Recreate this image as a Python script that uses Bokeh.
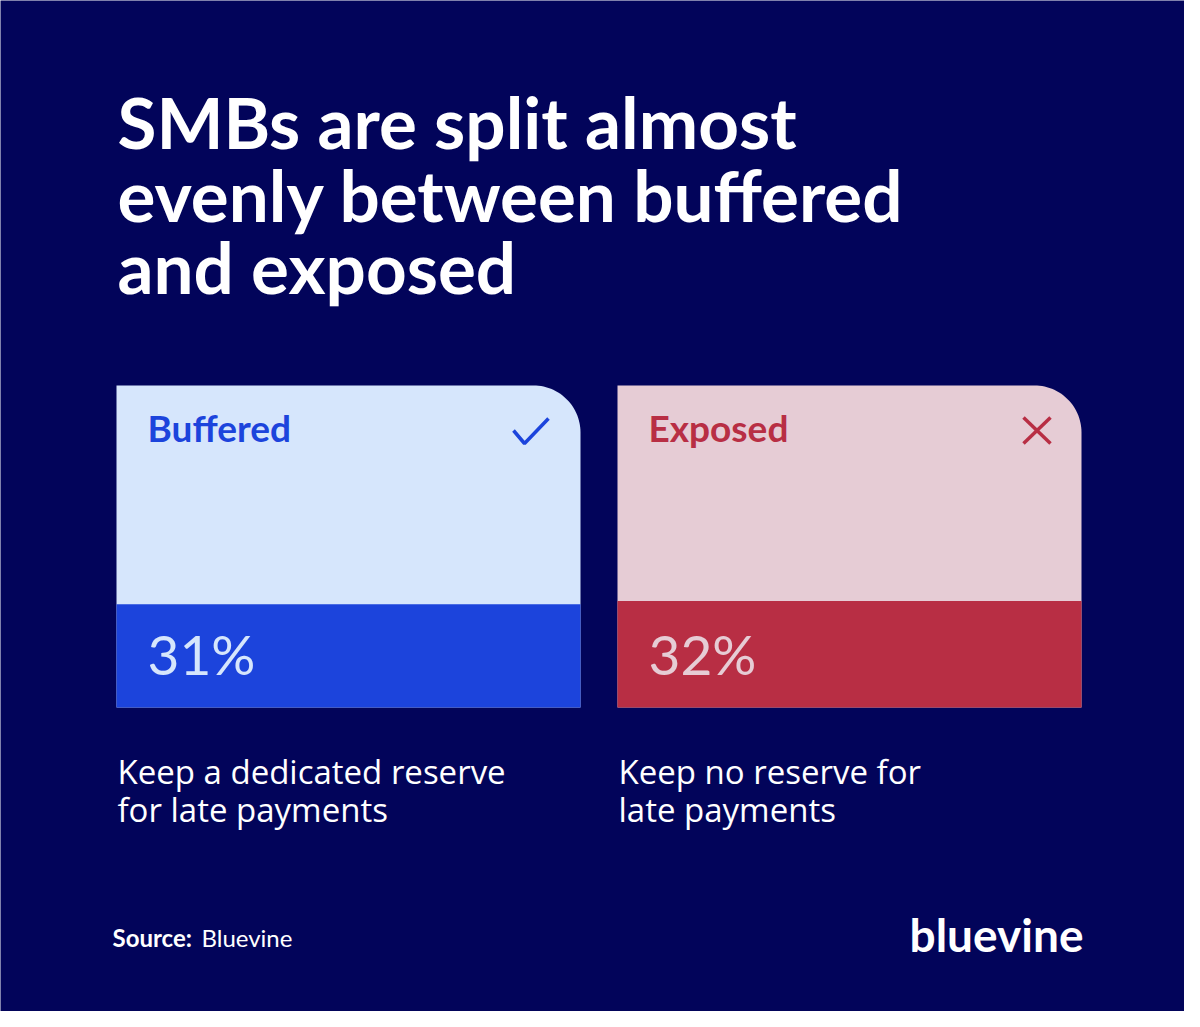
import numpy as np
from bokeh.plotting import figure
from bokeh.models import Range1d
from bokeh.core.properties import value
from bokeh.embed import file_html
from bokeh.resources import INLINE

# ---- data ----
categories = ["Buffered", "Exposed"]
shares = [31, 32]
share_labels = ["31%", "32%"]
descriptions = [["Keep a dedicated reserve", "for late payments"],
                ["Keep no reserve for", "late payments"]]
title_lines = ["SMBs are split almost", "evenly between buffered", "and exposed"]
source_label = "Source:"
source_name = "Bluevine"
brand = "bluevine"

# ---- style / layout ----
BG = "#02045a"
LIGHT = ["#d6e6fc", "#e6ccd5"]
DARK = ["#1c44dc", "#b82e44"]
W, H = 1184, 1011
CARD_L = [116, 617]
CARD_W = 464
CARD_TOP, CARD_BOT = 385, 707
RADIUS = 47
PX_PER_PCT = 3.33
K = 0.43  # baseline compensation (fraction of font size)


def by(baseline, size):
    return baseline - K * size


p = figure(width=W, height=H, output_backend="svg", toolbar_location=None,
           x_range=Range1d(0, W), y_range=Range1d(H, 0),
           min_border=0, background_fill_color=BG, border_fill_color=BG,
           outline_line_color=None)
p.axis.visible = False
p.grid.visible = False

# percent scale: 0 at card bottom, grows upward
p.extra_y_ranges = {"pct": Range1d(start=-(H - CARD_BOT) / PX_PER_PCT,
                                   end=CARD_BOT / PX_PER_PCT)}

# cards (light background with rounded top-right corner)
t = np.linspace(0, np.pi / 2, 30)
for i in range(2):
    l = CARD_L[i]
    r = l + CARD_W
    cx, cy = r - RADIUS, CARD_TOP + RADIUS
    xs = [l, l] + list(cx + RADIUS * np.sin(t)) + [r]
    ys = [CARD_BOT, CARD_TOP] + list(cy - RADIUS * np.cos(t)) + [CARD_BOT]
    p.patch(xs, ys, fill_color=LIGHT[i], line_color=None)

# bars driven by the data
p.quad(left=CARD_L, right=[c + CARD_W for c in CARD_L], bottom=[0, 0], top=shares,
       fill_color=DARK, line_color=None, y_range_name="pct")

# category labels
p.text(x=[c + 31 for c in CARD_L], y=[by(443, 37)] * 2, text=categories,
       text_color=DARK, text_font=value("Lato"), text_font_style="bold",
       text_font_size="37px", text_baseline="alphabetic")

# share labels
p.text(x=[c + 31 for c in CARD_L], y=[by(677, 55)] * 2, text=share_labels,
       text_color=LIGHT, text_font=value("Lato"), text_font_size="55px",
       text_baseline="alphabetic")

# check mark and cross
p.line([513, 524, 548], [430, 443, 418], line_color=DARK[0], line_width=3.5)
p.line([1023, 1050], [417, 443], line_color=DARK[1], line_width=3.5)
p.line([1023, 1050], [443, 417], line_color=DARK[1], line_width=3.5)

# descriptions
for i in range(2):
    p.text(x=[CARD_L[i] + 1] * 2, y=[by(785, 33), by(823, 33)], text=descriptions[i],
           text_color="white", text_font=value("Open Sans"), text_font_size="33px",
           text_baseline="alphabetic")

# title
p.text(x=[117] * 3, y=[by(152, 71), by(225, 71), by(297, 71)], text=title_lines,
       text_color="white", text_font=value("Lato"), text_font_style="bold",
       text_font_size="71px", text_baseline="alphabetic")

# footer
p.text(x=[112], y=[by(947, 24)], text=[source_label], text_color="white",
       text_font=value("Lato"), text_font_style="bold", text_font_size="24px",
       text_baseline="alphabetic")
p.text(x=[201], y=[by(947, 24)], text=[source_name], text_color="white",
       text_font=value("Lato"), text_font_size="24px", text_baseline="alphabetic")
p.text(x=[1083], y=[by(954, 46)], text=[brand], text_color="white",
       text_font=value("Lato"), text_font_style="bold", text_font_size="46px",
       text_baseline="alphabetic", text_align="right")

open("out.html", "w").write(file_html(p, INLINE))
